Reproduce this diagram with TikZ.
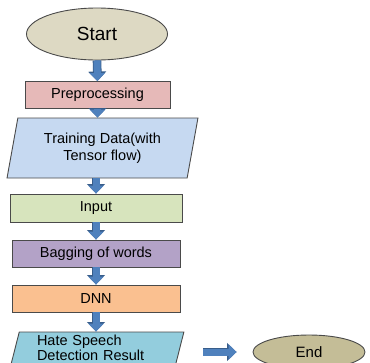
\documentclass[tikz,border=0pt]{standalone}
\usepackage{fontspec}
\setmainfont{Liberation Sans}
\usetikzlibrary{arrows.meta,shapes.geometric}

\definecolor{edgegray}{HTML}{4A4A4A}
\definecolor{startfill}{HTML}{DDD9C3}
\definecolor{endfill}{HTML}{C4BD97}
\definecolor{prepfill}{HTML}{E6B9B8}
\definecolor{trainfill}{HTML}{C6D9F1}
\definecolor{inputfill}{HTML}{D7E4BD}
\definecolor{bagfill}{HTML}{B3A2C7}
\definecolor{dnnfill}{HTML}{FAC090}
\definecolor{resultfill}{HTML}{93CDDD}
\definecolor{arrowblue}{HTML}{4F81BD}
\definecolor{arrowedge}{HTML}{385D8A}

\tikzset{
  txt/.style={font=\fontsize{14.5}{16.5}\selectfont},
  terminal/.style={ellipse, draw=edgegray, line width=0.9pt, inner sep=0pt},
  box/.style={rectangle, draw=edgegray, line width=0.9pt, minimum height=27pt, inner sep=0pt, txt},
  datashape/.style={trapezium, trapezium left angle=76, trapezium right angle=104,
    trapezium stretches=true, draw=edgegray, line width=0.9pt, inner sep=0pt, txt},
  flow/.style={line width=7pt, draw=arrowblue, -{Triangle[width=15pt,length=8pt]},
    preaction={draw=arrowedge, line width=8.6pt, -{Triangle[width=17.5pt,length=9.5pt]}}}
}

\begin{document}
\begin{tikzpicture}[x=1pt,y=-1pt]
  \useasboundingbox (0,0) rectangle (370,362);

  % the steps, top to bottom
  \node (start) [terminal, fill=startfill, minimum width=141pt, minimum height=52pt,
    font=\fontsize{19}{21}\selectfont] at (97,34) {Start};
  \node (prep) [box, fill=prepfill, minimum width=145pt] at (97.5,95) {Preprocessing};
  \node (train) [datashape, fill=trainfill, minimum width=191pt, minimum height=60pt,
    align=center] at (102.5,148) {Training Data(with\\Tensor flow)};
  \node (input) [box, fill=inputfill, minimum width=172pt, minimum height=28pt] at (96,208) {Input};
  \node (bag) [box, fill=bagfill, minimum width=168pt] at (96,253.5) {Bagging of words};
  \node (dnn) [box, fill=dnnfill, minimum width=168pt] at (96,298.5) {DNN};
  \node (result) [datashape, fill=resultfill, minimum width=173pt, minimum height=32pt,
    text width=121pt, align=left, font=\fontsize{14.5}{13}\selectfont]
    at (97.5,348) {Hate Speech\\Detection Result};
  \node (end) [terminal, fill=endfill, minimum width=112pt, minimum height=34pt,
    font=\fontsize{15}{17}\selectfont] at (309,352) {End};

  % block arrows
  \draw[flow] (start.south) -- (prep.north);
  \draw[flow] (prep.south) -- (prep.south |- train.north);
  \draw[flow] (train.south -| input.north) -- (input.north);
  \draw[flow] (input.south) -- (bag.north);
  \draw[flow] (bag.south) -- (dnn.north);
  \draw[flow] (dnn.south) -- (dnn.south |- result.north);
  \draw[flow, shorten <=23pt, shorten >=16pt] (result.east |- end.west) -- (end.west);
\end{tikzpicture}
\end{document}
